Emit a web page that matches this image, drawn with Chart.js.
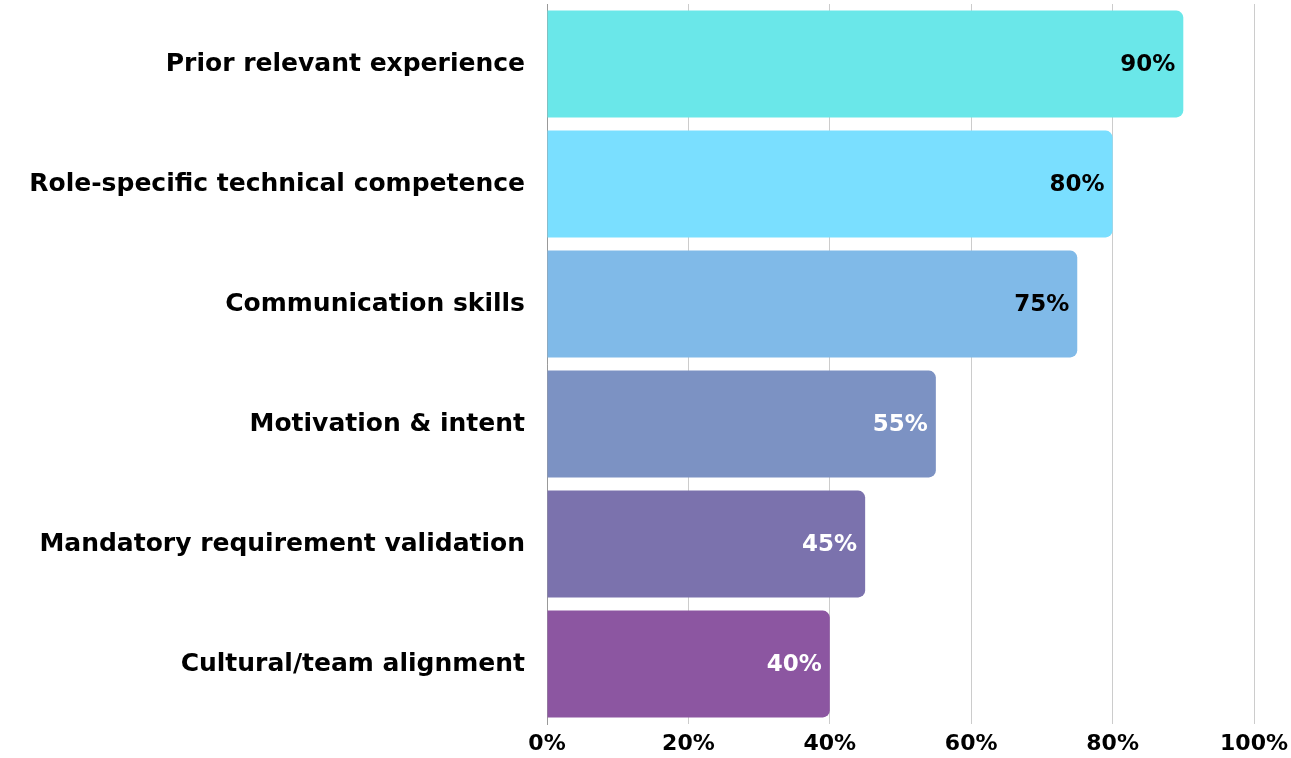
<!DOCTYPE html>
<html lang="en">
<head>
    <meta charset="UTF-8">
    <title>Selection criteria</title>
    <style>
        body {
            margin: 0;
            padding: 0;
            background-color: #ffffff;
        }
        .chart-container {
            width: 1291px;
            height: 758px;
        }
    </style>
</head>
<body>
    <div class="chart-container">
        <canvas id="barChart"></canvas>
    </div>

    <script src="https://cdn.jsdelivr.net/npm/chart.js"></script>
    <script>
        const categories = [
            'Prior relevant experience',
            'Role-specific technical competence',
            'Communication skills',
            'Motivation & intent',
            'Mandatory requirement validation',
            'Cultural/team alignment'
        ];
        const percentages = [90, 80, 75, 55, 45, 40];
        const barColors = ['#6ae7e9', '#7adfff', '#80bae8', '#7c92c3', '#7b72ad', '#8c56a1'];
        const labelColors = ['#000000', '#000000', '#000000', '#ffffff', '#ffffff', '#ffffff'];
        const tickValues = [0, 20, 40, 60, 80, 100];

        const fontFamily = '"DejaVu Sans", "Noto Sans", sans-serif';

        // values drawn at the inner end of each bar
        const valueLabels = {
            id: 'valueLabels',
            afterDatasetsDraw(chart) {
                const ctx = chart.ctx;
                const meta = chart.getDatasetMeta(0);
                ctx.save();
                ctx.font = 'bold 23px ' + fontFamily;
                ctx.textAlign = 'right';
                ctx.textBaseline = 'middle';
                meta.data.forEach(function (bar, i) {
                    ctx.fillStyle = labelColors[i];
                    ctx.fillText(percentages[i] + '%', bar.x - 8, bar.y + 1);
                });
                ctx.restore();
            }
        };

        new Chart(document.getElementById('barChart'), {
            type: 'bar',
            data: {
                labels: categories,
                datasets: [{
                    data: percentages,
                    backgroundColor: barColors,
                    borderRadius: { topRight: 7, bottomRight: 7 },
                    borderSkipped: false,
                    barPercentage: 0.89,
                    categoryPercentage: 1
                }]
            },
            options: {
                indexAxis: 'y',
                responsive: true,
                maintainAspectRatio: false,
                animation: false,
                layout: {
                    padding: { top: 4, left: 10, right: 0, bottom: 0 }
                },
                plugins: {
                    legend: { display: false },
                    tooltip: { enabled: false }
                },
                scales: {
                    x: {
                        min: 0,
                        max: 100,
                        afterBuildTicks: function (scale) {
                            scale.ticks = tickValues.map(v => ({ value: v }));
                        },
                        afterFit: function (scale) {
                            scale.height = 34;
                            scale.paddingLeft = 0;
                            scale.paddingRight = 37;
                        },
                        grid: {
                            color: '#cccccc',
                            drawTicks: false
                        },
                        border: { display: false },
                        ticks: {
                            padding: 7,
                            color: '#000000',
                            font: { family: fontFamily, size: 22, weight: 'bold' },
                            callback: v => v + '%'
                        }
                    },
                    y: {
                        afterFit: function (scale) {
                            scale.width = 537;
                            scale.paddingTop = 0;
                            scale.paddingBottom = 0;
                        },
                        grid: { display: false },
                        border: { display: true, color: '#999999', width: 1 },
                        ticks: {
                            padding: 14,
                            color: '#000000',
                            font: { family: fontFamily, size: 25, weight: 'bold' }
                        }
                    }
                }
            },
            plugins: [valueLabels]
        });
    </script>
</body>
</html>
